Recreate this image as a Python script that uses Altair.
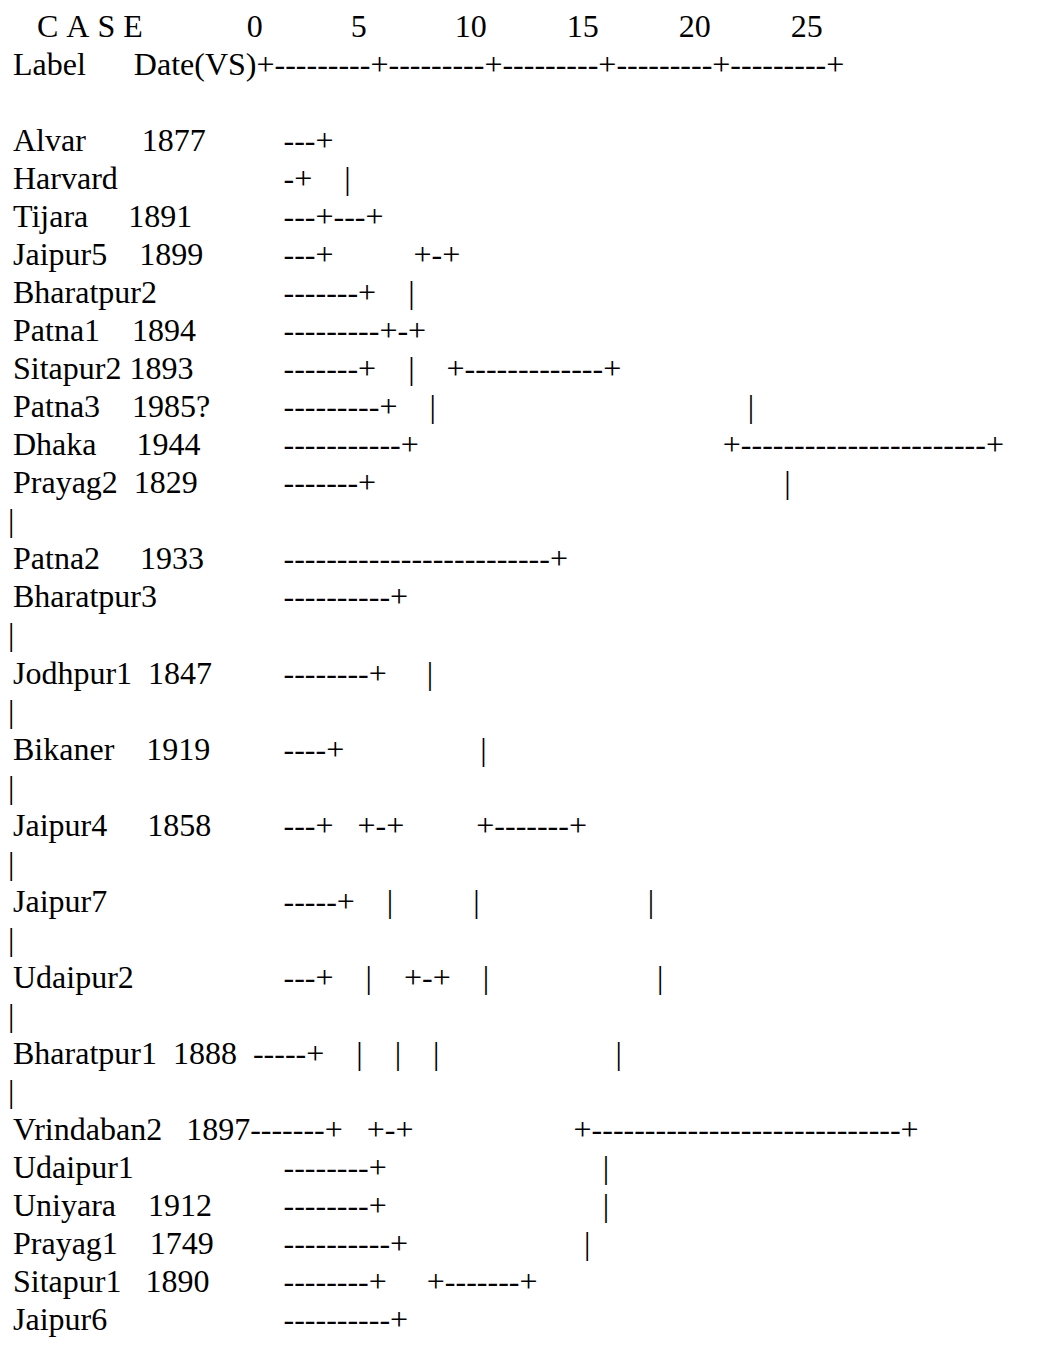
import altair as alt
import pandas as pd

NBSP = "\u00a0"
ZWSP = "\u200b"  # keeps leading spaces from being trimmed


def s(n):
    return " " * n


def d(n):
    return "-" * n


# Text at the far left edge (wrapped "|" characters)
pre_marks = [
    "", "", "", "", "", "", "", "", "", "", "", "", "",
    "|", "", "", "|", "", "|", "", "|", "", "|", "", "|", "", "|", "", "|",
    "", "", "", "", "", "",
]

# Case label + date column (and the two rows whose tree runs on from the date)
case_labels = [
    s(3) + "C A S E" + s(13) + "0" + s(11) + "5" + s(11) + "10" + s(10) + "15" + s(10) + "20" + s(10) + "25",
    "Label" + s(6) + "Date(VS)" + ("+" + d(9)) * 5 + "+",
    "",
    "Alvar" + s(7) + "1877",
    "Harvard",
    "Tijara" + s(5) + "1891",
    "Jaipur5" + s(4) + "1899",
    "Bharatpur2",
    "Patna1" + s(4) + "1894",
    "Sitapur2" + s(1) + "1893",
    "Patna3" + s(4) + "1985?",
    "Dhaka" + s(5) + "1944",
    "Prayag2" + s(2) + "1829",
    "",
    "Patna2" + s(5) + "1933",
    "Bharatpur3",
    "",
    "Jodhpur1" + s(2) + "1847",
    "",
    "Bikaner" + s(4) + "1919",
    "",
    "Jaipur4" + s(5) + "1858",
    "",
    "Jaipur7",
    "",
    "Udaipur2",
    "",
    "Bharatpur1" + s(2) + "1888" + s(2) + d(5) + "+" + s(4) + "|" + s(4) + "|" + s(4) + "|" + s(22) + "|",
    "",
    "Vrindaban2" + s(3) + "1897" + d(7) + "+" + s(3) + "+-+" + s(20) + "+" + d(29) + "+",
    "Udaipur1",
    "Uniyara" + s(4) + "1912",
    "Prayag1" + s(4) + "1749",
    "Sitapur1" + s(3) + "1890",
    "Jaipur6",
]

# Dendrogram column
tree_strings = [
    "",
    "",
    "",
    d(3) + "+",
    d(1) + "+" + s(4) + "|",
    d(3) + "+" + d(3) + "+",
    d(3) + "+" + s(10) + "+-+",
    d(7) + "+" + s(4) + "|",
    d(9) + "+-+",
    d(7) + "+" + s(4) + "|" + s(4) + "+" + d(13) + "+",
    d(9) + "+" + s(4) + "|" + s(39) + "|",
    d(11) + "+" + s(38) + "+" + d(23) + "+",
    d(7) + "+" + s(51) + "|",
    "",
    d(25) + "+",
    d(10) + "+",
    "",
    d(8) + "+" + s(5) + "|",
    "",
    d(4) + "+" + s(17) + "|",
    "",
    d(3) + "+" + s(3) + "+-+" + s(9) + "+" + d(7) + "+",
    "",
    d(5) + "+" + s(4) + "|" + s(10) + "|" + s(21) + "|",
    "",
    d(3) + "+" + s(4) + "|" + s(4) + "+-+" + s(4) + "|" + s(21) + "|",
    "",
    "",
    "",
    "",
    d(8) + "+" + s(27) + "|",
    d(8) + "+" + s(27) + "|",
    d(10) + "+" + s(22) + "|",
    d(8) + "+" + s(5) + "+" + d(7) + "+",
    d(10) + "+",
]


def keep_spaces(t):
    if not t:
        return t
    return ZWSP + t.replace(" ", NBSP)


n_rows = len(case_labels)
df = pd.DataFrame({
    "row": list(range(n_rows)),
    "pre": [keep_spaces(t) for t in pre_marks],
    "label": [keep_spaces(t) for t in case_labels],
    "tree": [keep_spaces(t) for t in tree_strings],
})

y_enc = alt.Y("row:Q", scale=alt.Scale(domain=[0, n_rows - 1], range=[29, 1322]), axis=None)
base = alt.Chart(df).encode(y=y_enc)
style = dict(font="Liberation Serif", fontSize=32, align="left", baseline="alphabetic", color="#000000")

pre_layer = base.mark_text(**style).encode(x=alt.value(0), text="pre:N")
label_layer = base.mark_text(**style).encode(x=alt.value(5), text="label:N")
tree_layer = base.mark_text(**style).encode(x=alt.value(275.5), text="tree:N")

chart = (
    alt.layer(pre_layer, label_layer, tree_layer)
    .properties(width=1022, height=1330, padding=0, autosize=alt.AutoSizeParams(type="none"))
    .configure_view(strokeWidth=0, strokeOpacity=0)
)

chart.save("out.html", embed_options={"renderer": "svg", "actions": False})
